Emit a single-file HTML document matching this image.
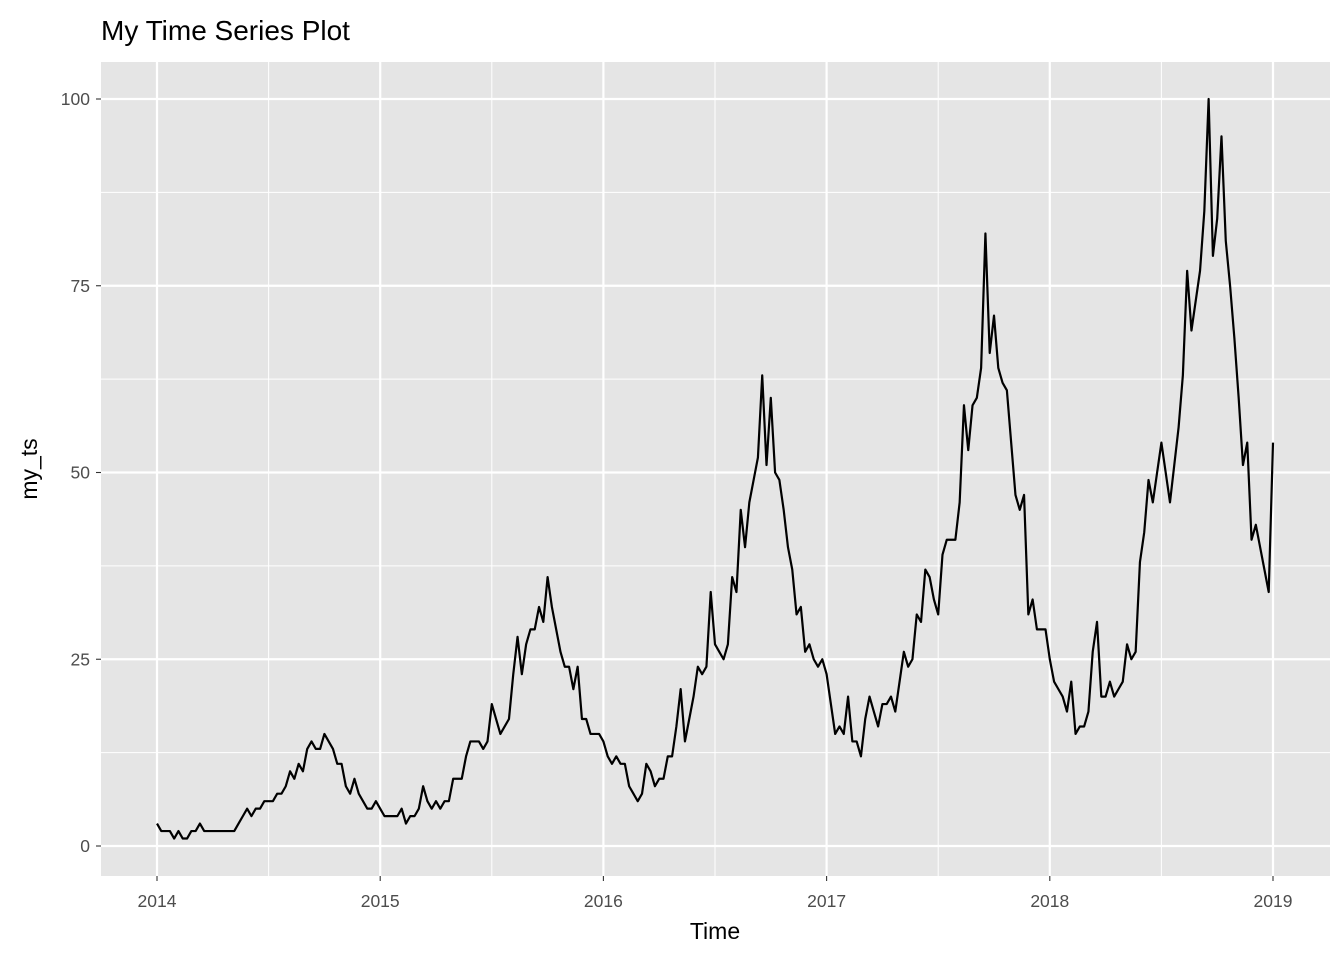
<!DOCTYPE html>
<html><head><meta charset="utf-8"><style>
body{margin:0;background:#fff;font-family:"Liberation Sans",Arial,sans-serif}
</style></head><body>
<svg id="chart" width="1344" height="960" xmlns="http://www.w3.org/2000/svg">
<text x="101" y="40" font-size="28" fill="#000">My Time Series Plot</text>
<rect x="101" y="62" width="1229" height="814" fill="#e5e5e5"/>
<g id="grid"></g><g id="ticks"></g>
<path id="line" fill="none" stroke="#000" stroke-width="2.2" stroke-linejoin="round"/>
<text x="715" y="939" font-size="23" text-anchor="middle">Time</text>
<text transform="translate(37,469) rotate(-90)" font-size="23" text-anchor="middle">my_ts</text>
</svg>
<script>
const startYear = 2014;
const freq = 52;
const values = [3,2,2,2,1,2,1,1,2,2,3,2,2,2,2,2,2,2,2,3,4,5,4,5,5,6,6,6,7,7,8,10,9,11,10,13,14,13,13,15,14,13,11,11,8,7,9,7,6,5,5,6,
5,4,4,4,4,5,3,4,4,5,8,6,5,6,5,6,6,9,9,9,12,14,14,14,13,14,19,17,15,16,17,23,28,23,27,29,29,32,30,36,32,29,26,24,24,21,24,17,17,15,15,15,
14,12,11,12,11,11,8,7,6,7,11,10,8,9,9,12,12,16,21,14,17,20,24,23,24,34,27,26,25,27,36,34,45,40,46,49,52,63,51,60,50,49,45,40,37,31,32,26,27,25,24,25,
23,19,15,16,15,20,14,14,12,17,20,18,16,19,19,20,18,22,26,24,25,31,30,37,36,33,31,39,41,41,41,46,59,53,59,60,64,82,66,71,64,62,61,54,47,45,47,31,33,29,29,29,
25,22,21,20,18,22,15,16,16,18,26,30,20,20,22,20,21,22,27,25,26,38,42,49,46,50,54,50,46,51,56,63,77,69,73,77,85,100,79,84,95,81,75,68,60,51,54,41,43,40,37,34,
54];
const xTicks = [2014,2015,2016,2017,2018,2019];
const yTicks = [0,25,50,75,100];
const X = t => 157 + (t - 2014) * 223.2;
const Y = v => 846 - v * 7.47;
const NS = "http://www.w3.org/2000/svg";
const grid = document.getElementById('grid'), ticks = document.getElementById('ticks');
function mk(tag, attrs, parent){const e=document.createElementNS(NS,tag);for(const k in attrs)e.setAttribute(k,attrs[k]);parent.appendChild(e);return e;}
for (let i=0;i<yTicks.length;i++){
  const v=yTicks[i];
  if(i<yTicks.length-1){const m=mk('line',{x1:101,x2:1330,y1:Y(v+12.5),y2:Y(v+12.5),stroke:'#fff','stroke-width':1},grid);
    
    }
  const l=mk('line',{x1:101,x2:1330,y1:Y(v),y2:Y(v),stroke:'#fff','stroke-width':2.2},grid);
  
  
  const tk=mk('line',{x1:96,x2:101,y1:Y(v),y2:Y(v),stroke:'#333','stroke-width':1.1},ticks);
  
  
  const t=mk('text',{x:90,y:Y(v)+6,'font-size':17.5,fill:'#4d4d4d','text-anchor':'end'},ticks);
  t.textContent=v;
  
  
}
for (let i=0;i<xTicks.length;i++){
  const v=xTicks[i];
  if(i<xTicks.length-1){const m=mk('line',{x1:X(v+0.5),x2:X(v+0.5),y1:62,y2:876,stroke:'#fff','stroke-width':1},grid);
    
    }
  const l=mk('line',{x1:X(v),x2:X(v),y1:62,y2:876,stroke:'#fff','stroke-width':2.2},grid);
  
  
  const tk=mk('line',{x1:X(v),x2:X(v),y1:876,y2:881,stroke:'#333','stroke-width':1.1},ticks);
  
  
  const t=mk('text',{x:X(v),y:907,'font-size':17.5,fill:'#4d4d4d','text-anchor':'middle'},ticks);
  t.textContent=v;
  
  
}
let d='';
values.forEach((v,i)=>{d+=(i?'L':'M')+X(startYear+i/freq).toFixed(2)+','+Y(v).toFixed(2);});
document.getElementById('line').setAttribute('d',d);
</script>
</body></html>
